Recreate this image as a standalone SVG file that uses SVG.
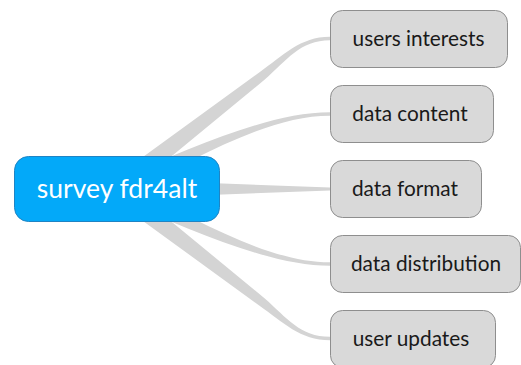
<svg xmlns="http://www.w3.org/2000/svg" width="521" height="365" viewBox="0 0 521 365">
<style>
.br{fill:#d4d4d4;stroke:none}
.child rect{fill:#d9d9d9;stroke:#8e8e8e;stroke-width:1}
.child text{font-family:Lato,"Open Sans","Liberation Sans",sans-serif;font-size:20.8px;fill:#1a1a1a;text-anchor:middle}
.root rect{fill:#03a9f9;stroke:#1f84c4;stroke-width:1}
.root text{font-family:Lato,"Open Sans","Liberation Sans",sans-serif;font-size:26.5px;fill:#ffffff;text-anchor:middle}
</style>
<rect width="521" height="365" fill="#ffffff"/>
<g id="connectors">
<path class="br" d="M109.9,181.1 L259.2,72.4 C283.2,55.6 300,36.7 330,36.7 L330,40.3 C300,40.3 286.8,60.4 264.8,79.6 L122.1,196.9 Z"/>
<path class="br" d="M112.2,180.8 C197.8,145.5 270,112.3 330,112.3 L330,115.7 C270,115.7 202.2,154.5 119.8,197.2 Z"/>
<path class="br" d="M116,179.5 L330,187.5 L330,190.5 L116,198.5 Z"/>
<path class="br" d="M112.2,197.2 C197.8,232.5 270,265.7 330,265.7 L330,262.3 C270,262.3 202.2,223.5 119.8,180.8 Z"/>
<path class="br" d="M109.9,196.9 L259.2,305.6 C283.2,322.4 300,340.3 330,340.3 L330,336.7 C300,336.7 286.8,317.6 264.8,298.4 L122.1,181.1 Z"/>
</g>
<g id="root" class="root">
<rect x="14.5" y="156.5" width="205" height="65" rx="14"/>
<text x="117" y="197.5">survey fdr4alt</text>
</g>
<g id="n1" class="child">
<rect x="330.5" y="10.5" width="177" height="57" rx="12"/>
<text x="418.5" y="45.5">users interests</text>
</g>
<g id="n2" class="child">
<rect x="330.5" y="85.5" width="163" height="57" rx="12"/>
<text x="410" y="120.5">data content</text>
</g>
<g id="n3" class="child">
<rect x="330.5" y="160.5" width="151" height="57" rx="12"/>
<text x="405" y="195.5">data format</text>
</g>
<g id="n4" class="child">
<rect x="330.5" y="235.5" width="190" height="57" rx="12"/>
<text x="426" y="270.5">data distribution</text>
</g>
<g id="n5" class="child">
<rect x="330.5" y="310.5" width="165" height="57" rx="12"/>
<text x="411" y="345.5">user updates</text>
</g>
</svg>
